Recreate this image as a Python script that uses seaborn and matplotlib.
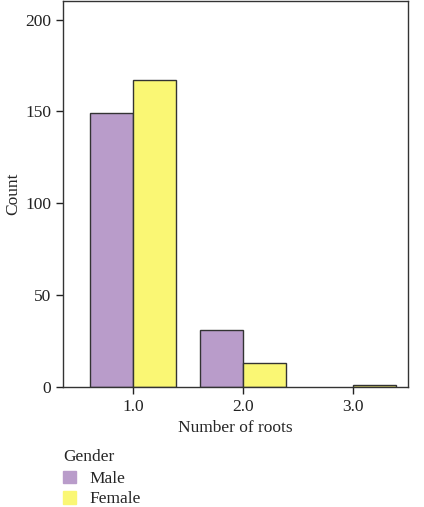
import pandas as pd
import matplotlib
matplotlib.use('Agg')
import matplotlib.pyplot as plt
import seaborn as sns

# 資料
roots = ['1.0', '2.0', '3.0']
male_counts = [149, 31, 0]
female_counts = [167, 13, 1]
genders = ['Male', 'Female']
colors = ['#B99CCA', '#FAF774']

df = pd.DataFrame({
    'roots': roots * 2,
    'count': male_counts + female_counts,
    'Gender': ['Male'] * 3 + ['Female'] * 3,
})

sns.set_style('ticks')
plt.rcParams['font.family'] = ['Liberation Serif', 'DejaVu Serif']

fig = plt.figure(figsize=(4.24, 5.07), dpi=100)
ax = fig.add_axes([0.1486, 0.2367, 0.8137, 0.761])

sns.barplot(data=df, x='roots', y='count', hue='Gender', hue_order=genders,
            palette=colors, width=0.79, edgecolor='#333333', linewidth=1.0,
            saturation=1, ax=ax)

# 高度為 0 的長條不顯示
for p in ax.patches:
    if p.get_height() == 0:
        p.set_visible(False)

ax.set_ylim(0, 210)
ax.set_xlim(-0.636, 2.5)
ax.set_yticks([0, 50, 100, 150, 200])
ax.set_xlabel('Number of roots', fontsize=12.5)
ax.set_ylabel('Count', fontsize=12.5, labelpad=3)
ax.tick_params(labelsize=12.5, colors='#222222', width=1, length=5)
for s in ax.spines.values():
    s.set_color('#333333')
    s.set_linewidth(1.0)

# 圖例放在下方
ax.legend_.remove()
handles = [plt.Rectangle((0, 0), 1, 1, color=c) for c in colors]
leg = fig.legend(handles, genders, title='Gender', loc='upper left',
                 bbox_to_anchor=(0.14, 0.121), frameon=False, fontsize=12.5,
                 title_fontsize=12.5, handlelength=0.75, handleheight=0.75,
                 handletextpad=0.8, labelspacing=0.22, borderaxespad=0,
                 borderpad=0.2, alignment='left')
leg._legend_box.sep = 4

plt.savefig('out.png', dpi=100)
